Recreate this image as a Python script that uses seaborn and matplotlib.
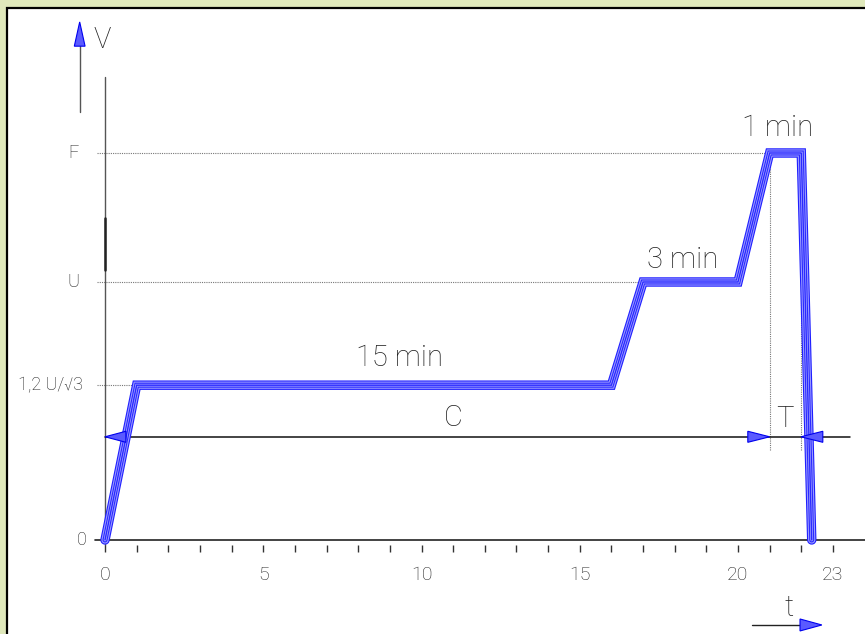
import matplotlib
matplotlib.use("Agg")

import pandas as pd
import matplotlib.pyplot as plt
import matplotlib.patheffects as pe
from matplotlib.patches import Rectangle
import seaborn as sns

# test voltage profile (t in min, V in arbitrary level units)
t_points = [0, 1, 16, 17, 20, 21, 22, 22.33]
v_points = [0, 3, 3, 5, 5, 7.5, 7.5, 0]

# level labels on the V axis
v_levels = [0, 3, 5, 7.5]
v_labels = ["0", "1,2 U/√3", "U", "F"]

# time axis ticks
t_ticks = list(range(0, 24))
t_label_vals = [0, 5, 10, 15, 20, 23]

# durations written above the steps
step_texts = ["15 min", "3 min", "1 min"]
step_x = [9.29, 18.26, 21.26]
step_y = [3.53, 5.43, 7.98]

c_level = 2.0          # height of the C / T dimension line
t_marks = [21, 22]     # T interval

df = pd.DataFrame({"t": t_points, "V": v_points})

sns.set_style("white")
plt.rcParams["font.family"] = ["Roboto", "DejaVu Sans"]
plt.rcParams["font.weight"] = "light"

fig = plt.figure(figsize=(8.65, 6.34), dpi=100)
fig.patch.set_facecolor("#dfe8bb")
fig.add_artist(Rectangle((7.5 / 865, -0.1), 1.0, 1.1 - 8.5 / 634,
                         transform=fig.transFigure, facecolor="white",
                         edgecolor="black", lw=1.6, zorder=0))

ax = fig.add_axes([0, 0, 1, 1])
ax.set_xlim(-3.318, 24.013)
ax.set_ylim(-1.822, 10.465)
ax.axis("off")

txt = "#222222"
ax_col = "#555555"

# axes
ax.plot([-0.32, 24.1], [0, 0], color="#222222", lw=1.2, zorder=2)
ax.plot([0, 0], [-0.1, 8.97], color=ax_col, lw=1.0, zorder=2)
ax.plot([0, 0], [5.23, 6.24], color="#222222", lw=1.8, zorder=2)
ax.vlines(t_ticks, -0.1, -0.23, color="#333333", lw=1.0)
for v in t_label_vals:
    ax.text(v, -0.68, str(v), ha="center", va="center", fontsize=14,
            color=txt)

# level labels and dotted guides
label_x = [-0.58, -0.7, -0.8, -0.85]
for v, lab, lx in zip(v_levels, v_labels, label_x):
    ax.text(lx, v, lab, ha="right", va="center", fontsize=13, color=txt)
guide_end = [None, 1.0, 16.9, 21.0]
for v, xe in zip(v_levels, guide_end):
    if xe:
        ax.plot([-0.25, xe], [v, v], color="#777777", lw=0.8,
                ls=(0, (1, 1)), zorder=1)
for tm in t_marks:
    ax.plot([tm, tm], [1.74, 7.5], color="#777777", lw=0.8,
            ls=(0, (1, 1)), zorder=1)

# profile
sns.lineplot(data=df, x="t", y="V", sort=False, estimator=None, ax=ax,
             color="#2a2aff", lw=1, zorder=5)
line = ax.lines[-1]
line.set_path_effects([
    pe.Stroke(linewidth=6.8, foreground="#1f1fff"),
    pe.Stroke(linewidth=5.2, foreground="#9a9aff"),
    pe.Stroke(linewidth=3.6, foreground="#2a2aff"),
    pe.Stroke(linewidth=2.0, foreground="#a8a8ff"),
    pe.Normal(),
])
line.set_solid_joinstyle("miter")
ax.set_xlabel("")
ax.set_ylabel("")


def head(tip_x, tip_y, dx, dy, length, half):
    # dx, dy: unit direction, length in data units along it
    bx, by = tip_x - dx * length, tip_y - dy * length
    px, py = -dy * half, dx * half
    ax.fill([tip_x, bx + px, bx - px], [tip_y, by + py, by - py],
            facecolor="#5a5aff", edgecolor="#0000ee", lw=0.8, zorder=6)


# dimension line C and T
ax.plot([0, 23.54], [c_level, c_level], color="#111111", lw=1.1, zorder=3)
head(0, c_level, -1, 0, 0.66, 0.107)
head(21.0, c_level, 1, 0, 0.69, 0.107)
head(21.99, c_level, -1, 0, 0.69, 0.107)
ax.text(11.0, 2.36, "C", ha="center", va="center", fontsize=21, color=txt)
ax.text(21.48, 2.34, "T", ha="center", va="center", fontsize=21, color=txt)

for s, x, y in zip(step_texts, step_x, step_y):
    ax.text(x, y, s, ha="center", va="center", fontsize=21, color=txt)

# V arrow
ax.plot([-0.8, -0.8], [8.29, 9.59], color=ax_col, lw=1.0)
head(-0.8, 10.04, 0, 1, 0.47, 0.17)
ax.text(-0.095, 9.69, "V", ha="center", va="center", fontsize=21, color=txt)

# t arrow
ax.plot([20.44, 21.96], [-1.647, -1.647], color="#222222", lw=1.0)
head(22.65, -1.647, 1, 0, 0.69, 0.116)
ax.text(21.61, -1.31, "t", ha="center", va="center", fontsize=21, color=txt)

fig.savefig("out.png", dpi=100)
